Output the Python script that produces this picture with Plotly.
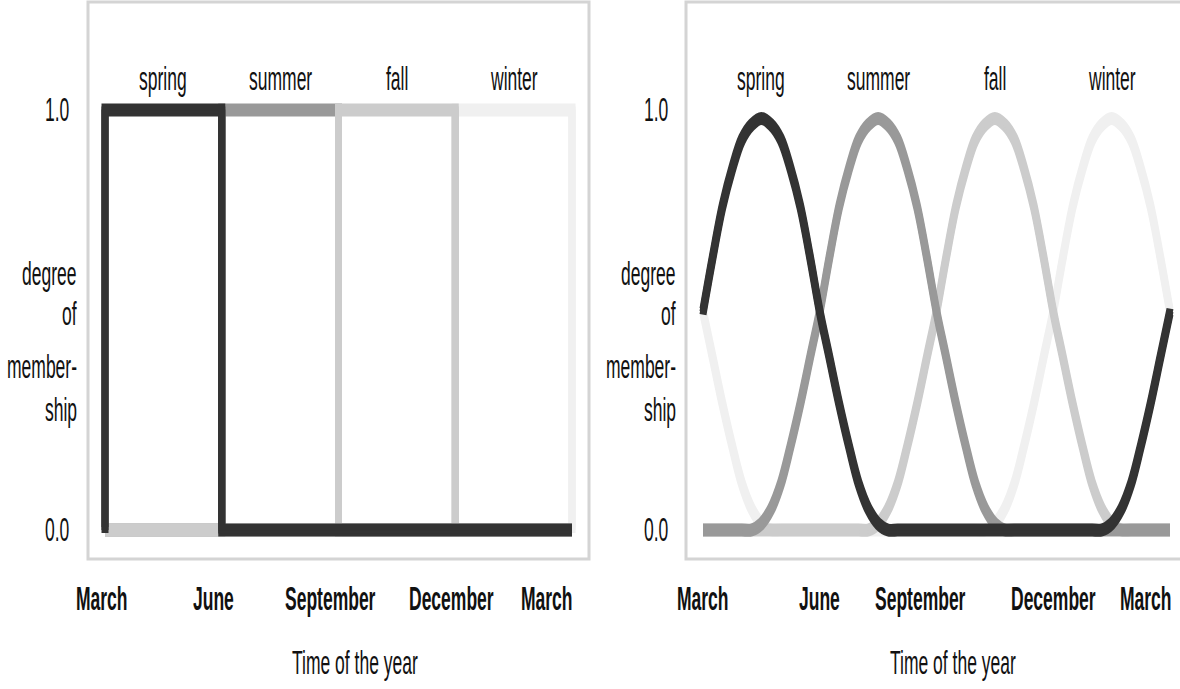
import json
import plotly.graph_objects as go

# ---------------- data ----------------
months = [0, 3, 6, 9, 12]
month_labels = ["March", "June", "September", "December", "March"]
seasons = ["spring", "summer", "fall", "winter"]
season_centers = [1.5, 4.5, 7.5, 10.5]

# crisp membership: value on each interval March-June, June-Sep, Sep-Dec, Dec-March
crisp_spring = [1, 0, 0, 0]
crisp_summer = [0, 1, 0, 0]
crisp_fall = [0, 0, 1, 0]
crisp_winter = [0, 0, 0, 1]

# fuzzy membership: shape of one season's bump,
# membership vs. distance (in months) from the season's centre
bump_distance = [0, 0.25, 0.5, 0.75, 1.0, 1.25, 1.5, 1.75, 2.0, 2.25, 2.5, 2.75, 3.0]
bump_value = [0.98, 0.965, 0.93, 0.86, 0.77, 0.65, 0.52, 0.41, 0.30, 0.20, 0.11, 0.05, 0.015]
fuzzy_step = 0.25  # months between read samples

y_tick_vals = [0, 1]
y_tick_text = ["0.0", "1.0"]
axis_title_lines = ["degree", "of", "member-", "ship"]
x_title = "Time of the year"

# ---------------- style ----------------
colors = {"spring": "#333333", "summer": "#999999", "fall": "#cccccc", "winter": "#f0f0f0"}
FONT = "Liberation Sans, Arial, sans-serif"
FS = 17.5
TXT = "#111111"
LW = 7
DY = 3.0 / 420.0  # vertical thickening (pixels -> data units)

fig = go.Figure()


def add_thick(x, y, color, xa, ya, shape="linear"):
    for off in (-DY, 0.0, DY):
        fig.add_trace(go.Scatter(
            x=x, y=[v + off for v in y], mode="lines",
            line=dict(color=color, width=LW, shape=shape, smoothing=1.0),
            xaxis=xa, yaxis=ya, showlegend=False, hoverinfo="skip"))


def crisp_path(vals):
    px, py = [months[0]], [0]
    for j, v in enumerate(vals):
        px += [months[j], months[j + 1]]
        py += [v, v]
    px.append(months[-1])
    py.append(0)
    return px, py


def fuzzy_series(center):
    lookup = {round(d / fuzzy_step): v for d, v in zip(bump_distance, bump_value)}
    n = int(round(months[-1] / fuzzy_step))
    xs, ys = [], []
    for k in range(n + 1):
        x = k * fuzzy_step
        d = abs(x - center)
        d = min(d, months[-1] - d)
        xs.append(x)
        ys.append(lookup.get(int(round(d / fuzzy_step)), 0.0))
    return xs, ys


crisp = {"spring": crisp_spring, "summer": crisp_summer, "fall": crisp_fall, "winter": crisp_winter}
for s in ["winter", "summer", "fall", "spring"]:
    px, py = crisp_path(crisp[s])
    add_thick(px, py, colors[s], "x", "y")

centers = dict(zip(seasons, season_centers))
for s in ["winter", "fall", "summer", "spring"]:
    fx, fy = fuzzy_series(centers[s])
    add_thick(fx, fy, colors[s], "x2", "y2", shape="spline")

# ---------------- layout ----------------
W, H = 1180, 689
scale = 467 / 12.0
yscale = 420.0

x1_dom = [88 / W, 589 / W]
x1_rng = [(88 - 105) / scale, 12 + (589 - 572) / scale]
x2_dom = [686 / W, 1.0]
x2_rng = [(686 - 703) / scale, (1180 - 703) / scale]
y_dom = [(H - 559) / H, (H - 2) / H]
y_rng = [-(559 - 530) / yscale, 1 + (110 - 2) / yscale]

xa = dict(showgrid=False, zeroline=False, showline=False, showticklabels=False, ticks="", fixedrange=True)
ya = dict(showgrid=False, zeroline=False, showline=False, showticklabels=False, ticks="",
          range=y_rng, domain=y_dom, fixedrange=True)

fig.update_layout(
    width=W, height=H, margin=dict(l=0, r=0, t=0, b=0),
    paper_bgcolor="white", plot_bgcolor="white", showlegend=False,
    xaxis=dict(xa, domain=x1_dom, range=x1_rng),
    yaxis=dict(ya, anchor="x"),
    xaxis2=dict(xa, domain=x2_dom, range=x2_rng, anchor="y2"),
    yaxis2=dict(ya, anchor="x2"),
)

# frames
fig.add_shape(type="rect", xref="x domain", yref="y domain", x0=0, x1=1, y0=0, y1=1,
              line=dict(color="#d4d4d4", width=3), layer="below")
fig.add_shape(type="rect", xref="x2 domain", yref="y2 domain", x0=0, x1=1.05, y0=0, y1=1,
              line=dict(color="#d4d4d4", width=3), layer="below")

ann = []
month_shift = {"x": [-3, -8, -8, -4, -25], "x2": [0, 0, -16, 0, -24]}
tick_right = {"x": 72, "x2": 671}
title_right = {"x": 79, "x2": 678}
yref_of = {"x": "y", "x2": "y2"}
for xr in ["x", "x2"]:
    for m, lab, sh in zip(months, month_labels, month_shift[xr]):
        ann.append(dict(x=m, y=(H - 599) / H, xref=xr, yref="paper", text=lab, showarrow=False,
                        xanchor="center", yanchor="middle", xshift=sh,
                        font=dict(family=FONT, size=FS, color=TXT, weight="bold")))
    for c, s in zip(season_centers, seasons):
        ann.append(dict(x=c, y=(H - 79) / H, xref=xr, yref="paper", text=s, showarrow=False,
                        xanchor="center", yanchor="middle",
                        font=dict(family=FONT, size=FS, color=TXT)))
    ann.append(dict(x=6, y=(H - 663) / H, xref=xr, yref="paper", text=x_title, showarrow=False,
                    xanchor="center", yanchor="middle", xshift=16,
                    font=dict(family=FONT, size=FS, color=TXT)))
    for v, t in zip(y_tick_vals, y_tick_text):
        ann.append(dict(x=tick_right[xr] / W, y=v, xref="paper", yref=yref_of[xr], text=t,
                        showarrow=False, xanchor="right", yanchor="middle",
                        font=dict(family=FONT, size=FS, color=TXT)))
    for line_txt, ypx in zip(axis_title_lines, [274, 314, 367, 410]):
        ann.append(dict(x=title_right[xr] / W, y=(H - ypx) / H, xref="paper", yref="paper",
                        text=line_txt, showarrow=False, xanchor="right", yanchor="middle",
                        font=dict(family=FONT, size=FS, color=TXT)))

fig.update_layout(annotations=ann)

css = ("html,body{margin:0;padding:0;overflow:hidden;} "
       "text.annotation-text{transform-box:fill-box;transform-origin:center;transform:scaleY(1.85);}")
post = ("var s=document.createElement('style');s.innerHTML=" + json.dumps(css) +
        ";document.head.appendChild(s);document.body.style.margin='0';")
fig.write_html("out.html", post_script=post, config={"displayModeBar": False})
